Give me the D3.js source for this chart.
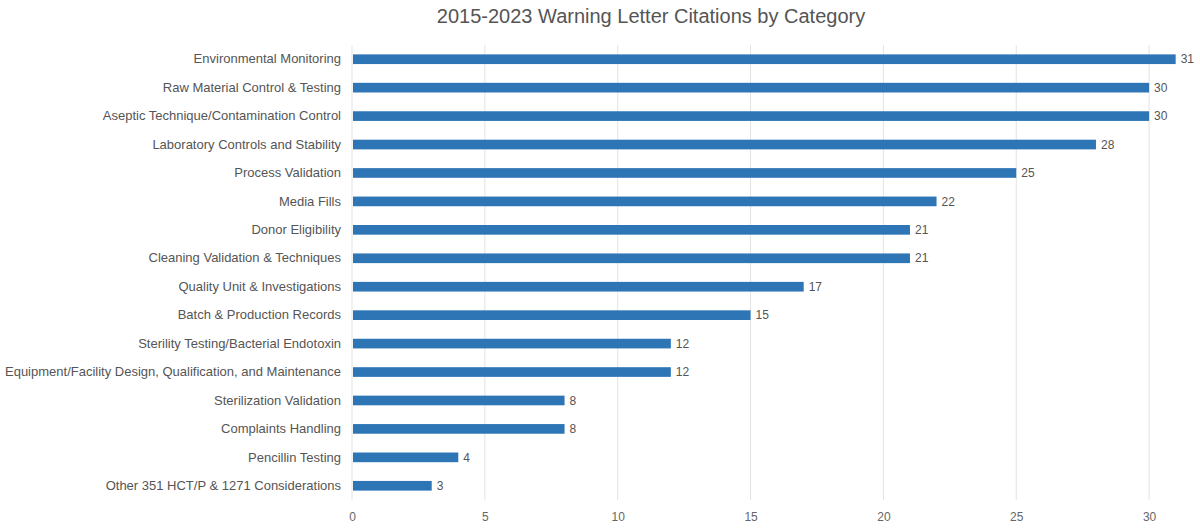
<!DOCTYPE html>
<html>
<head>
<meta charset="utf-8">
<script src="https://cdn.jsdelivr.net/npm/d3@7"></script>
<style>
  body { margin: 0; background: #fff; }
  svg { font-family: "Liberation Sans", Arial, sans-serif; }
</style>
</head>
<body>
<svg id="chart" width="1200" height="529"></svg>
<script>
const categories = [
  "Environmental Monitoring",
  "Raw Material Control & Testing",
  "Aseptic Technique/Contamination Control",
  "Laboratory Controls and Stability",
  "Process Validation",
  "Media Fills",
  "Donor Eligibility",
  "Cleaning Validation & Techniques",
  "Quality Unit & Investigations",
  "Batch & Production Records",
  "Sterility Testing/Bacterial Endotoxin",
  "Equipment/Facility Design, Qualification, and Maintenance",
  "Sterilization Validation",
  "Complaints Handling",
  "Pencillin Testing",
  "Other 351 HCT/P & 1271 Considerations"
];
const citations = [31, 30, 30, 28, 25, 22, 21, 21, 17, 15, 12, 12, 8, 8, 4, 3];
const xTicks = [0, 5, 10, 15, 20, 25, 30];
const title = "2015-2023 Warning Letter Citations by Category";

const width = 1200, height = 529;
const margin = {top: 45, right: 24, bottom: 29, left: 352};

const svg = d3.select("#chart");

const x = d3.scaleLinear()
    .domain([0, 31])
    .range([margin.left, margin.left + 31 * 26.57]);

const y = d3.scaleBand()
    .domain(categories)
    .range([margin.top, height - margin.bottom])
    .paddingInner(0.66)
    .paddingOuter(0.33);

// gridlines
svg.append("g")
    .selectAll("line")
    .data(xTicks)
    .enter().append("line")
        .attr("x1", d => x(d))
        .attr("x2", d => x(d))
        .attr("y1", margin.top)
        .attr("y2", height - margin.bottom)
        .attr("stroke", "#e3e3e3")
        .attr("stroke-width", 1);

// x axis
svg.append("g")
    .attr("transform", `translate(0,${height - margin.bottom})`)
    .call(d3.axisBottom(x).tickValues(xTicks).tickSize(0).tickPadding(12))
    .call(g => g.select(".domain").remove())
    .call(g => g.selectAll("text")
        .attr("fill", "#666")
        .attr("font-size", 12)
        .attr("font-family", "Liberation Sans, Arial, sans-serif"));

// y axis
svg.append("g")
    .attr("transform", `translate(${margin.left},0)`)
    .call(d3.axisLeft(y).tickSize(0).tickPadding(11))
    .call(g => g.select(".domain").remove())
    .call(g => g.selectAll("text")
        .attr("fill", "#555")
        .attr("font-size", 13)
        .attr("font-family", "Liberation Sans, Arial, sans-serif"));

// bars
svg.append("g")
    .selectAll("rect")
    .data(categories)
    .enter().append("rect")
        .attr("x", x(0) + 1)
        .attr("y", d => y(d))
        .attr("width", (d, i) => x(citations[i]) - x(0) - 1)
        .attr("height", y.bandwidth())
        .attr("fill", "#2e75b6");

// value labels
svg.append("g")
    .selectAll("text")
    .data(categories)
    .enter().append("text")
        .attr("x", (d, i) => x(citations[i]) + 5)
        .attr("y", d => y(d) + y.bandwidth() / 2)
        .attr("dy", "0.35em")
        .attr("fill", "#555")
        .attr("font-size", 12)
        .text((d, i) => citations[i]);

// title
svg.append("text")
    .attr("x", 651)
    .attr("y", 23)
    .attr("text-anchor", "middle")
    .attr("fill", "#555")
    .attr("font-size", 20)
    .text(title);
</script>
</body>
</html>
